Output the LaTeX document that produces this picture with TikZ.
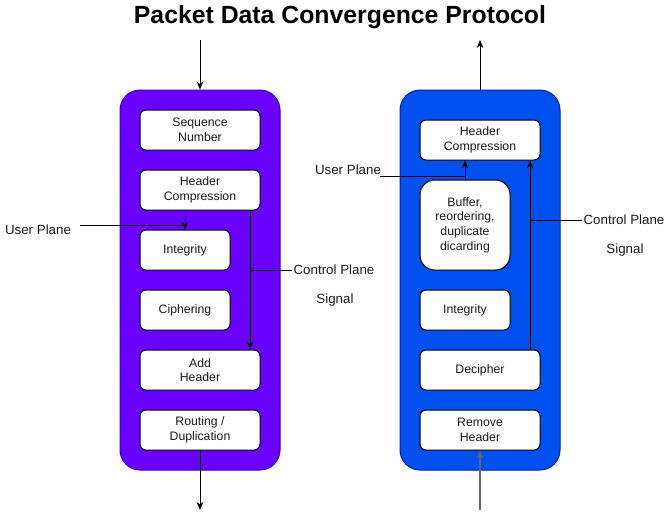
\documentclass[tikz,border=0pt]{standalone}
\usepackage{fontspec}
\setmainfont{Liberation Sans}
\usetikzlibrary{arrows.meta}
\definecolor{purp}{HTML}{6A00FF}
\definecolor{purpd}{HTML}{3700CC}
\definecolor{blu}{HTML}{0050EF}
\definecolor{blud}{HTML}{001DBC}
\definecolor{txt}{HTML}{1A1A1A}
\begin{document}
\begin{tikzpicture}[x=0.75pt,y=-0.75pt,
  container/.style={draw=#1, line width=0.75pt, rounded corners=15pt, minimum width=120pt, minimum height=285pt, inner sep=0pt},
  blk/.style={draw=black, fill=white, line width=0.75pt, rounded corners=4.5pt, minimum width=90pt, minimum height=30pt, inner sep=1pt, align=center, font=\fontsize{9.2}{11}\selectfont, text=txt},
  sblk/.style={blk, minimum width=67.5pt},
  lbl/.style={font=\fontsize{10}{12}\selectfont, text=txt, inner sep=1pt},
  arr/.style={line width=0.75pt, -{Stealth[length=6pt,width=5pt]}},
  ln/.style={line width=0.75pt}]
\useasboundingbox (0,0) rectangle (671,519);
% title
\node[font=\bfseries\fontsize{18.6}{22}\selectfont] (title) at (340,17) {Packet Data Convergence Protocol};
% containers
\node[container=purpd, fill=purp] (lc) at (200,280) {};
\node[container=blud, fill=blu] (rc) at (480,280) {};
% left blocks
\node[blk] (seq) at (200,130) {Sequence\\Number};
\node[blk] (hc1) at (200,190) {Header\\Compression};
\node[sblk] (int1) at (185,250) {Integrity};
\node[sblk] (ciph) at (185,310) {Ciphering};
\node[blk] (add) at (200,370) {Add\\Header};
\node[blk] (rout) at (200,430) {Routing /\\Duplication};
% right blocks
\node[blk] (hc2) at (480,140) {Header\\Compression};
\node[blk, minimum width=67.5pt, minimum height=67.5pt, rounded corners=11pt] (buf) at (465,225) {Buffer,\\reordering,\\duplicate\\dicarding};
\node[sblk] (int2) at (465,310) {Integrity};
\node[blk] (dec) at (480,370) {Decipher};
\node[blk] (rem) at (480,430) {Remove\\Header};
% labels
\node[lbl] (up1) at (38,230) {User Plane};
\node[lbl, anchor=west] (cp1) at (292,270) {Control Plane};
\node[lbl] (sig1) at (335,300) {Signal};
\node[lbl] (up2) at (348,170) {User Plane};
\node[lbl, anchor=west] (cp2) at (582,220) {Control Plane};
\node[lbl] (sig2) at (625,250) {Signal};
% helper coordinates
\coordinate (in1) at (200,40);
\coordinate (out1) at (200,510);
\coordinate (out2) at (480,40);
\coordinate (in2) at (480,510);
\coordinate (upx1) at (80,225);
\coordinate (cx1) at (250,0);
\coordinate (upx2) at (380,176);
\coordinate (cx2) at (530,0);
% left arrows
\draw[arr] (in1) -- (lc.north);
\draw[arr] (rout.south) -- (out1);
\draw[arr] (hc1.south -| int1.north) -- (int1.north);
\draw[ln] (upx1) -- (upx1 -| int1.north);
\draw[arr] (hc1.south -| cx1) -- (add.north -| cx1);
\draw[ln] (cp1.west) -- (cp1.west -| cx1);
% right arrows
\draw[arr] (rc.north) -- (out2);
\draw[arr, draw=black!60, line width=1.1pt] (in2) -- (rem.south);
\draw[arr] (buf.north) -- (hc2.south -| buf.north);
\draw[ln] (upx2) -- (upx2 -| buf.north);
\draw[arr] (dec.north -| cx2) -- (hc2.south -| cx2);
\draw[ln] (cp2.west) -- (cp2.west -| cx2);
\end{tikzpicture}
\end{document}
